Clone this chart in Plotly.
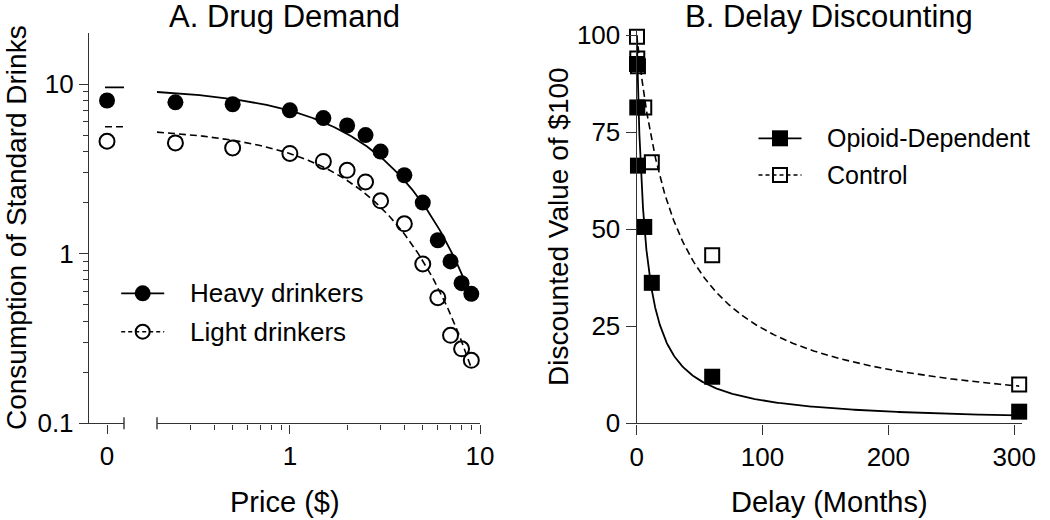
import numpy as np
import plotly.graph_objects as go

W, H = 1050, 520
FONT = "Liberation Sans, Arial, sans-serif"
AX = "#333333"

# ---------------- Panel A: Drug Demand ----------------
price = [0.25, 0.5, 1, 1.5, 2, 2.5, 3, 4, 5, 6, 7, 8, 9]
heavy = [7.8, 7.6, 7.0, 6.3, 5.7, 5.0, 4.0, 2.9, 2.0, 1.2, 0.9, 0.67, 0.58]
light = [4.5, 4.2, 3.9, 3.5, 3.1, 2.65, 2.05, 1.5, 0.87, 0.55, 0.33, 0.275, 0.235]
price_zero = [0]
heavy_zero = [8.0]
light_zero = [4.6]
# fitted demand curves  Q = Q0 * 10^(-s * price)
heavy_q0, heavy_s, heavy_pmax = 9.56, 0.137, 9.2
light_q0, light_s, light_pmax = 5.6, 0.158, 9.0
fit_pmin = 0.2
q0_dash_span = [-0.06, 0.5]
legend_a = ["Heavy drinkers", "Light drinkers"]

# ---------------- Panel B: Delay Discounting ----------------
delay = [0.23, 0.46, 1, 6, 12, 60, 304]
opioid = [92.6, 81.4, 66.4, 50.6, 36.2, 12, 3]
control = [99.6, 94, 92, 81.4, 67.3, 43.3, 10]
# fitted hyperbolic curves  V = 100 / (1 + k * delay)
opioid_k = 0.16
control_k = 0.031
amount = 100
legend_b = ["Opioid-Dependent", "Control"]


def px(p):
    return p / W


def py(p):
    return 1 - p / H


hc_x = np.geomspace(fit_pmin, heavy_pmax, 200)
hc_y = heavy_q0 * 10 ** (-heavy_s * hc_x)
lc_x = np.geomspace(fit_pmin, light_pmax, 200)
lc_y = light_q0 * 10 ** (-light_s * lc_x)

d_x = np.concatenate([np.linspace(0, 20, 300), np.linspace(20, max(delay), 300)])
op_y = amount / (1 + opioid_k * d_x)
ct_y = amount / (1 + control_k * d_x)

SOLID = dict(color="black", width=1.8)
DASHED = dict(color="black", width=1.6, dash="7px,4px")

fig = go.Figure()

# ---- Panel A traces ----
fig.add_trace(go.Scatter(x=hc_x, y=hc_y, mode="lines", xaxis="x2", yaxis="y", line=SOLID))
fig.add_trace(go.Scatter(x=lc_x, y=lc_y, mode="lines", xaxis="x2", yaxis="y", line=DASHED))
fig.add_trace(go.Scatter(x=q0_dash_span, y=[heavy_q0] * 2, mode="lines", xaxis="x", yaxis="y", line=SOLID))
fig.add_trace(go.Scatter(x=q0_dash_span, y=[light_q0] * 2, mode="lines", xaxis="x", yaxis="y", line=DASHED))
fig.add_trace(go.Scatter(x=price, y=heavy, mode="markers", xaxis="x2", yaxis="y", cliponaxis=False,
                         marker=dict(symbol="circle", size=16, color="black")))
fig.add_trace(go.Scatter(x=price, y=light, mode="markers", xaxis="x2", yaxis="y", cliponaxis=False,
                         marker=dict(symbol="circle-open", size=15, color="black", line=dict(width=2))))
fig.add_trace(go.Scatter(x=price_zero, y=heavy_zero, mode="markers", xaxis="x", yaxis="y", cliponaxis=False,
                         marker=dict(symbol="circle", size=16, color="black")))
fig.add_trace(go.Scatter(x=price_zero, y=light_zero, mode="markers", xaxis="x", yaxis="y", cliponaxis=False,
                         marker=dict(symbol="circle-open", size=15, color="black", line=dict(width=2))))

# ---- Panel B traces ----
fig.add_trace(go.Scatter(x=d_x, y=ct_y, mode="lines", xaxis="x3", yaxis="y2", line=DASHED))
fig.add_trace(go.Scatter(x=d_x, y=op_y, mode="lines", xaxis="x3", yaxis="y2", line=SOLID))
fig.add_trace(go.Scatter(x=delay, y=control, mode="markers", xaxis="x3", yaxis="y2", cliponaxis=False,
                         marker=dict(symbol="square-open", size=14, color="black", line=dict(width=2))))
fig.add_trace(go.Scatter(x=delay, y=opioid, mode="markers", xaxis="x3", yaxis="y2", cliponaxis=False,
                         marker=dict(symbol="square", size=16, color="black")))

axis_common = dict(showline=True, linecolor=AX, linewidth=1.4, ticks="outside", tickcolor=AX,
                   tickwidth=1.4, showgrid=False, zeroline=False, automargin=False,
                   tickfont=dict(size=26, family=FONT, color="black"))

minor_x = [0.3, 0.4, 0.5, 0.6, 0.7, 0.8, 0.9, 2, 3, 4, 5, 6, 7, 8, 9]
minor_y = [0.2, 0.3, 0.4, 0.5, 0.6, 0.7, 0.8, 0.9, 2, 3, 4, 5, 6, 7, 8, 9]

fig.update_layout(
    width=W, height=H,
    margin=dict(l=0, r=0, t=0, b=0, autoexpand=False),
    showlegend=False,
    paper_bgcolor="white", plot_bgcolor="white",
    font=dict(family=FONT, color="black"),
    xaxis=dict(domain=[px(89), px(124)], range=[-0.53, 0.5], anchor="y",
               tickmode="array", tickvals=[0], ticktext=["0"], ticklen=9, **axis_common),
    xaxis2=dict(domain=[px(157), px(480)], type="log", range=[np.log10(fit_pmin), 1], anchor="y",
                tickmode="array", tickvals=[1, 10], ticktext=["1", "10"], ticklen=9,
                minor=dict(tickmode="array", tickvals=minor_x, ticks="outside", ticklen=5,
                           tickcolor=AX, tickwidth=1.2, showgrid=False),
                **axis_common),
    yaxis=dict(domain=[py(423.3), py(33)], type="log", range=[-1, np.log10(20)], anchor="x",
               tickmode="array", tickvals=[0.1, 1, 10], ticktext=["0.1", "1", "10"], ticklen=9,
               minor=dict(tickmode="array", tickvals=minor_y, ticks="outside", ticklen=5,
                          tickcolor=AX, tickwidth=1.2, showgrid=False),
               **axis_common),
    xaxis3=dict(domain=[px(636.7), px(1021.7)], range=[0, 306], anchor="y2",
                tickmode="array", tickvals=[0, 100, 200, 300], ticklen=10, **axis_common),
    yaxis2=dict(domain=[py(423.3), py(31.4)], range=[0, 101], anchor="x3",
                tickmode="array", tickvals=[0, 25, 50, 75, 100], ticklen=10, **axis_common),
)

# axis-break marks
for ref, xv in (("x domain", 1), ("x2 domain", 0)):
    fig.add_shape(type="line", xref=ref, yref="y domain", x0=xv, x1=xv, y0=-6 / 390, y1=6 / 390,
                  line=dict(color=AX, width=1.4))


# ---- legends (sample line + glyph + label), positions in pixels ----
def legend_entry(cx, cy, label, dashed, symbol, filled, fsize):
    ln = dict(color="black", width=1.6, dash="4px,3px") if dashed else dict(color="black", width=1.8)
    fig.add_shape(type="line", xref="paper", yref="paper", x0=px(cx - 21.5), x1=px(cx + 21.5),
                  y0=py(cy), y1=py(cy), line=ln)
    r = 8 if filled else 7
    fig.add_shape(type=symbol, xref="paper", yref="paper", x0=px(cx - r), x1=px(cx + r),
                  y0=py(cy + r), y1=py(cy - r), fillcolor="black" if filled else "rgba(0,0,0,0)",
                  line=dict(color="black", width=0 if filled else 2))
    fig.add_annotation(text=label, x=px(cx + 45), y=py(cy), xref="paper", yref="paper",
                       xanchor="left", yanchor="middle", showarrow=False,
                       font=dict(size=fsize, family=FONT, color="black"))


legend_entry(142.7, 293.3, legend_a[0], False, "circle", True, 26)
legend_entry(142.7, 331.7, legend_a[1], True, "circle", False, 26)
legend_entry(780, 138.3, legend_b[0], False, "rect", True, 25)
legend_entry(780, 175, legend_b[1], True, "rect", False, 25)

ann = [
    dict(text="A. Drug Demand", x=px(284.5), y=py(17), size=31, angle=0),
    dict(text="B. Delay Discounting", x=px(829), y=py(17), size=31, angle=0),
    dict(text="Price ($)", x=px(284.5), y=py(502), size=29, angle=0),
    dict(text="Delay (Months)", x=px(829), y=py(502), size=29, angle=0),
    dict(text="Consumption of Standard Drinks", x=px(16), y=py(228), size=28, angle=-90),
    dict(text="Discounted Value of $100", x=px(558), y=py(227), size=28, angle=-90),
]
for a in ann:
    fig.add_annotation(text=a["text"], x=a["x"], y=a["y"], xref="paper", yref="paper",
                       xanchor="center", yanchor="middle", showarrow=False, textangle=a["angle"],
                       font=dict(size=a["size"], family=FONT, color="black"))

fig.write_html("out.html", config={"displayModeBar": False},
               post_script="document.body.style.margin='0';document.body.style.overflow='hidden';")
